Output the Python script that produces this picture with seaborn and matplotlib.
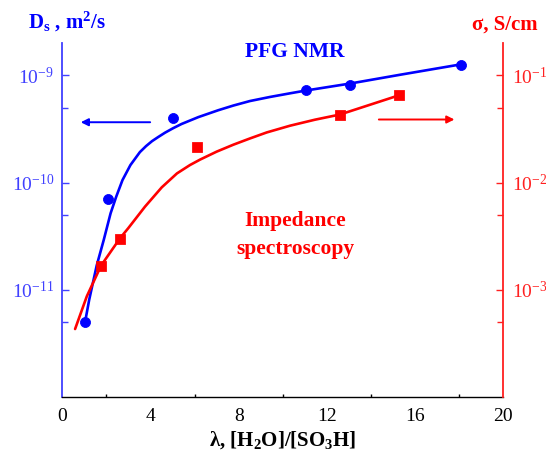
import numpy as np
import pandas as pd
import matplotlib
matplotlib.use("Agg")
import matplotlib.pyplot as plt
from matplotlib.ticker import FixedLocator, NullFormatter, LogFormatterMathtext
import seaborn as sns

# ---- data ----
nmr_lambda = [1.03, 2.05, 5.03, 11.03, 13.04, 18.07]
nmr_D = [5.0e-12, 7.0e-11, 4.0e-10, 7.25e-10, 8.2e-10, 1.26e-9]

imp_lambda = [1.76, 2.61, 6.13, 12.59, 15.27]
imp_sigma = [1.67e-3, 3.0e-3, 2.14e-2, 4.27e-2, 6.5e-2]

nmr_fit_lambda = [1.03, 1.22, 1.56, 1.88, 2.19, 2.44, 2.73, 3.09, 3.52, 3.80, 4.07,
                  4.34, 4.66, 5.03, 5.41, 6.17, 7.07, 7.76, 8.51, 9.42, 10.33, 11.05,
                  13.05, 15.32, 18.08]
nmr_fit_logD = [-11.304, -11.093, -10.774, -10.535, -10.287, -10.135, -9.977,
                -9.837, -9.716, -9.660, -9.614, -9.577, -9.535, -9.493, -9.454,
                -9.390, -9.326, -9.282, -9.240, -9.202, -9.168, -9.142, -9.077,
                -8.995, -8.898]

imp_fit_lambda = [0.58, 1.11, 1.76, 2.62, 2.99, 3.75, 4.51, 5.20, 5.79, 6.25, 7.00,
                  7.76, 8.51, 9.27, 10.33, 11.46, 12.59, 15.28]
imp_fit_logsigma = [-3.366, -3.062, -2.774, -2.519, -2.426, -2.225, -2.045, -1.915,
                    -1.837, -1.786, -1.712, -1.647, -1.589, -1.533, -1.470, -1.414,
                    -1.366, -1.186]

x_ticks = [0, 4, 8, 12, 16, 20]
left_major = [1e-11, 1e-10, 1e-9]
right_major = [1e-3, 1e-2, 1e-1]

BLUE = "#0000ff"
BLUE_AX = "#4040ff"
RED = "#ff0000"
RED_AX = "#ff2020"

sns.set_style("white")
plt.rcParams["font.family"] = ["Liberation Serif", "DejaVu Serif"]
plt.rcParams["mathtext.fontset"] = "custom"
plt.rcParams["mathtext.rm"] = "Liberation Serif"
plt.rcParams["mathtext.it"] = "Liberation Serif:italic"
plt.rcParams["mathtext.bf"] = "Liberation Serif:bold"
plt.rcParams["axes.unicode_minus"] = False

fig = plt.figure(figsize=(5.46, 4.68), dpi=100)
ax = fig.add_axes([0.1141, 0.1517, 0.8077, 0.7564])
ax2 = ax.twinx()

nmr_fit = pd.DataFrame({"x": nmr_fit_lambda, "y": 10 ** np.array(nmr_fit_logD)})
imp_fit = pd.DataFrame({"x": imp_fit_lambda, "y": 10 ** np.array(imp_fit_logsigma)})

sns.lineplot(data=nmr_fit, x="x", y="y", ax=ax, color=BLUE, linewidth=1.9, sort=False, estimator=None)
sns.scatterplot(x=nmr_lambda, y=nmr_D, ax=ax, color=BLUE, s=52, marker="o", edgecolor=BLUE, zorder=5)

sns.lineplot(data=imp_fit, x="x", y="y", ax=ax2, color=RED, linewidth=1.9, sort=False, estimator=None)
sns.scatterplot(x=imp_lambda, y=imp_sigma, ax=ax2, color=RED, s=48, marker="s", edgecolor=RED, zorder=5)

ax.set_yscale("log")
ax2.set_yscale("log")
ax.set_xlim(0, 20)
ax.set_ylim(1e-12, 2e-9)
ax2.set_ylim(1e-4, 2e-1)

ax.xaxis.set_major_locator(FixedLocator(x_ticks))
ax.xaxis.set_minor_locator(FixedLocator([2, 6, 10, 14, 18]))
ax.yaxis.set_major_locator(FixedLocator(left_major))
ax.yaxis.set_minor_locator(FixedLocator([5e-12, 5e-11, 5e-10]))
ax.yaxis.set_major_formatter(LogFormatterMathtext())
ax.yaxis.set_minor_formatter(NullFormatter())
ax2.yaxis.set_major_locator(FixedLocator(right_major))
ax2.yaxis.set_minor_locator(FixedLocator([5e-4, 5e-3, 5e-2]))
ax2.yaxis.set_major_formatter(LogFormatterMathtext())
ax2.yaxis.set_minor_formatter(NullFormatter())

ax.set_xlabel("")
ax.set_ylabel("")
ax2.set_ylabel("")

for a in (ax, ax2):
    a.spines["top"].set_visible(False)
ax.spines["right"].set_visible(False)
ax2.spines["left"].set_visible(False)
ax2.spines["bottom"].set_visible(False)
ax.spines["left"].set_color(BLUE_AX)
ax.spines["left"].set_linewidth(1.3)
ax2.spines["right"].set_color(RED_AX)
ax2.spines["right"].set_linewidth(1.3)
ax.spines["bottom"].set_color("black")
ax.spines["bottom"].set_linewidth(1.0)

ax.tick_params(axis="x", which="major", direction="in", length=4.5, width=1.0, colors="black",
               labelsize=14, pad=8)
ax.tick_params(axis="x", which="minor", direction="in", length=2.5, width=1.0, colors="black", bottom=True)
ax.tick_params(axis="y", which="major", direction="in", length=5, width=1.0, colors=BLUE_AX,
               labelsize=14, pad=6)
ax.tick_params(axis="y", which="minor", direction="in", length=4, width=1.0, colors=BLUE_AX, left=True)
ax2.tick_params(axis="y", which="major", direction="in", length=5, width=1.0, colors=RED_AX,
                labelsize=14, pad=6)
ax2.tick_params(axis="y", which="minor", direction="in", length=4, width=1.0, colors=RED_AX, right=True)

# arrows
ax.annotate("", xy=(0.71, 3.65e-10), xytext=(4.11, 3.65e-10),
            arrowprops=dict(arrowstyle="-|>", color=BLUE, lw=1.4, mutation_scale=11))
ax2.annotate("", xy=(17.91, 3.87e-2), xytext=(14.23, 3.87e-2),
             arrowprops=dict(arrowstyle="-|>", color=RED, lw=1.4, mutation_scale=11))

W, H = 546.0, 468.0
def ft(x, y, s, **kw):
    fig.text(x / W, 1 - y / H, s, ha="center", va="center", fontweight="bold", **kw)

ft(67, 22, r"D$_\mathbf{s}$ , m$^\mathbf{2}$/s", color=BLUE, fontsize=15)
ft(505, 25, "σ, S/cm", color=RED, fontsize=15)
ft(295, 52, "PFG NMR", color=BLUE, fontsize=15.5)
ft(295, 221, "Impedance", color=RED, fontsize=15.5)
ft(295, 249, "spectroscopy", color=RED, fontsize=15.5)
ft(283, 440, r"λ, [H$_\mathbf{2}$O]/[SO$_\mathbf{3}$H]", color="black", fontsize=15)

fig.savefig("out.png", dpi=100)
